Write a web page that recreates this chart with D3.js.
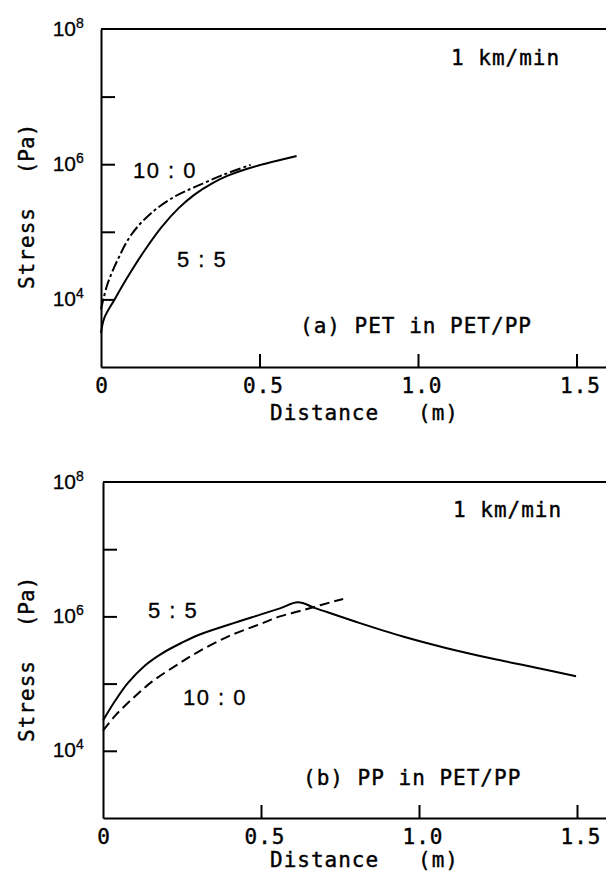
<!DOCTYPE html>
<html>
<head>
<meta charset="utf-8">
<script src="https://cdn.jsdelivr.net/npm/d3@7"></script>
<style>
  body { margin: 0; background: #fff; }
  svg { display: block; }
  .mono { font-family: "DejaVu Sans Mono", monospace; font-size: 21px; letter-spacing: 1px; fill: #000; stroke: #000; stroke-width: 0.4px; }
  .sans { font-family: "Liberation Sans", Arial, sans-serif; fill: #000; stroke: #000; stroke-width: 0.3px; }
</style>
</head>
<body>
<script>
// panel (a): PET in PET/PP
var aSolidDist = [0, 0.01, 0.043, 0.084, 0.137, 0.191, 0.245, 0.295, 0.352, 0.40, 0.459, 0.617];
var aSolidStress = [3160, 5250, 10000, 21400, 52500, 117500, 224000, 355000, 525000, 676000, 851000, 1318000];
var aDashDist = [0, 0.02, 0.052, 0.096, 0.159, 0.232, 0.295, 0.384, 0.472];
var aDashStress = [7080, 16600, 38000, 91200, 190500, 331000, 457000, 692000, 977000];

// panel (b): PP in PET/PP
var bSolidDist = [0, 0.038, 0.079, 0.133, 0.187, 0.25, 0.30, 0.40, 0.50, 0.56, 0.617, 0.674, 0.813, 0.949, 1.085, 1.234, 1.367, 1.497];
var bSolidStress = [28200, 55000, 102300, 186000, 282000, 407000, 525000, 759000, 1072000, 1318000, 1622000, 1318000, 794000, 501000, 339000, 234000, 174000, 129000];
var bDashDist = [0, 0.038, 0.092, 0.155, 0.228, 0.30, 0.40, 0.50, 0.56, 0.623, 0.69, 0.76];
var bDashStress = [20000, 33100, 58900, 107000, 182000, 295000, 513000, 776000, 1000000, 1202000, 1479000, 1820000];

var xTicks = [0.5, 1.0, 1.5];
var xTickLabels = ["0", "0.5", "1.0", "1.5"];
var yTicks = [1e4, 1e5, 1e6, 1e7];
var yLabelExp = [8, 6, 4];

var svg = d3.select("body").append("svg").attr("width", 606).attr("height", 873);

function panel(p) {
  var x = d3.scaleLinear().domain([0, 1.6]).range([p.left, p.left + 1.6 * p.unit]);
  var y = d3.scaleLog().domain([1e3, 1e8]).range([p.bottom, p.top]);
  var g = svg.append("g");

  // axes, ticks pointing inward
  g.append("g").attr("transform", "translate(" + p.left + ",0)")
    .call(d3.axisLeft(y).tickValues(yTicks).tickSizeInner(-14).tickSizeOuter(0).tickFormat(""))
    .call(function (s) { s.selectAll("line,path").attr("stroke", "#000").attr("stroke-width", 2); });
  g.append("g").attr("transform", "translate(0," + p.bottom + ")")
    .call(d3.axisBottom(x).tickValues(xTicks).tickSizeInner(-13).tickSizeOuter(0).tickFormat(""))
    .call(function (s) { s.selectAll("line,path").attr("stroke", "#000").attr("stroke-width", 2); });
  g.append("line").attr("x1", p.left).attr("x2", 606).attr("y1", p.top).attr("y2", p.top)
    .attr("stroke", "#000").attr("stroke-width", 2);

  // y tick labels 10^n
  yLabelExp.forEach(function (e) {
    var yy = y(Math.pow(10, e)) + 6.5;
    g.append("text").attr("class", "sans").attr("x", 76).attr("y", yy)
      .attr("text-anchor", "end").style("font-size", "21px").text("10");
    g.append("text").attr("class", "sans").attr("x", 76).attr("y", yy - 8)
      .style("font-size", "14px").text(e);
  });

  // x tick labels
  [0].concat(xTicks).forEach(function (v, i) {
    g.append("text").attr("class", "mono").attr("x", x(v) + (i ? 4 : 1)).attr("y", p.bottom + 26)
      .attr("text-anchor", "middle").text(xTickLabels[i]);
  });

  g.append("text").attr("class", "mono").attr("x", 270).attr("y", p.bottom + p.distDy).text("Distance");
  g.append("text").attr("class", "mono").attr("x", 418).attr("y", p.bottom + p.distDy).text("(m)");

  g.append("text").attr("class", "mono").attr("transform", "translate(34," + p.stressY + ") rotate(-90)")
    .attr("text-anchor", "middle").text("Stress");
  g.append("text").attr("class", "mono").attr("transform", "translate(34," + p.paY + ") rotate(-90)")
    .attr("text-anchor", "middle").style("letter-spacing", "0px").text("(Pa)");

  g.append("text").attr("class", "mono").attr("x", p.speedX).attr("y", p.top + p.speedDy).text("1 km/min");
  g.append("text").attr("class", "mono").attr("x", p.capX).attr("y", p.capY).text(p.caption);

  p.ratios.forEach(function (r) {
    g.append("text").attr("class", "sans").attr("x", r.x).attr("y", r.y)
      .style("font-size", "22px").style("letter-spacing", "1.5px").text(r.t);
  });

  var line = d3.line().curve(d3.curveCatmullRom.alpha(0.5))
    .x(function (d) { return x(d[0]); })
    .y(function (d) { return y(d[1]); });

  p.series.forEach(function (s) {
    g.append("path").datum(d3.zip(s.dist, s.stress))
      .attr("d", line).attr("fill", "none").attr("stroke", "#000")
      .attr("stroke-width", 2).attr("stroke-dasharray", s.dash);
  });
}

panel({
  left: 101, unit: 317, top: 29, bottom: 367, distDy: 53,
  stressY: 248, paY: 149, speedX: 451, speedDy: 36,
  capX: 300, capY: 333, caption: "(a) PET in PET/PP",
  ratios: [{ x: 133, y: 178, t: "10 : 0" }, { x: 177, y: 267, t: "5 : 5" }],
  series: [
    { dist: aSolidDist, stress: aSolidStress, dash: null },
    { dist: aDashDist, stress: aDashStress, dash: "11,3,3,3" }
  ]
});

panel({
  left: 103, unit: 316, top: 482, bottom: 818, distDy: 49,
  stressY: 701, paY: 602, speedX: 453, speedDy: 35,
  capX: 303, capY: 785, caption: "(b) PP in PET/PP",
  ratios: [{ x: 148, y: 618, t: "5 : 5" }, { x: 183, y: 705, t: "10 : 0" }],
  series: [
    { dist: bSolidDist, stress: bSolidStress, dash: null },
    { dist: bDashDist, stress: bDashStress, dash: "10,5" }
  ]
});
</script>
</body>
</html>
